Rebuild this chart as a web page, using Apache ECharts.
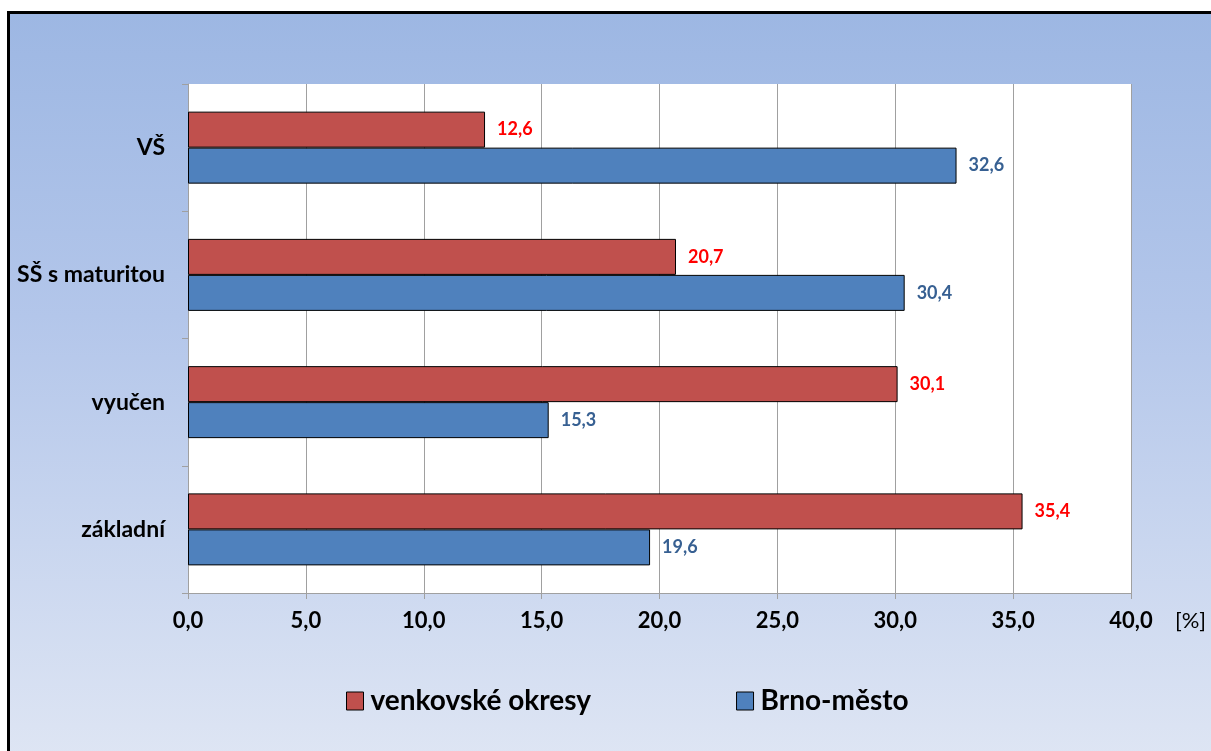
<!DOCTYPE html>
<html>
<head>
<meta charset="utf-8">
<script src="https://cdn.jsdelivr.net/npm/echarts@6/dist/echarts.min.js"></script>
<style>
  html, body { margin: 0; padding: 0; background: #ffffff; }
  #frame {
    position: absolute; left: 7px; top: 11px; width: 1220px; height: 760px;
    border: 3px solid #000000; box-sizing: border-box;
    background: linear-gradient(to bottom, #9db7e3 0%, #b3c6ea 40%, #dfe6f4 100%);
  }
  #chart { position: absolute; left: 0; top: 0; width: 1211px; height: 751px; }
</style>
</head>
<body>
<div id="frame"></div>
<div id="chart"></div>
<script>
// Education level categories, top to bottom
const categories = ['VŠ', 'SŠ s maturitou', 'vyučen', 'základní'];
// Share of population [%]
const venkovske = [12.6, 20.7, 30.1, 35.4];
const brno = [32.6, 30.4, 15.3, 19.6];
const seriesNames = ['venkovské okresy', 'Brno-město'];

const fontFamily = 'Lato, "Open Sans", sans-serif';
const fmt = v => v.toFixed(1).replace('.', ',');

const chart = echarts.init(document.getElementById('chart'), null, { renderer: 'canvas' });
chart.setOption({
  backgroundColor: 'transparent',
  animation: false,
  textStyle: { fontFamily: fontFamily },
  grid: { left: 188, top: 84, right: 80, bottom: 158, backgroundColor: '#ffffff', show: true, borderWidth: 0 },
  legend: {
    data: seriesNames,
    icon: 'rect',
    left: 341, top: 682,
    itemWidth: 17, itemHeight: 18, itemGap: 145,
    textStyle: { fontFamily: fontFamily, fontWeight: 'bold', fontSize: 28, color: '#000000', padding: [0, 0, 0, 2] },
    itemStyle: { borderColor: '#000000', borderWidth: 1 }
  },
  xAxis: {
    type: 'value', min: 0, max: 40, interval: 5,
    name: '[%]', nameLocation: 'end', nameGap: 44,
    nameTextStyle: { fontFamily: fontFamily, fontSize: 22, color: '#000000', verticalAlign: 'top', padding: [17, 0, 0, 0] },
    axisLine: { show: true, lineStyle: { color: '#a0a0a0', width: 1 } },
    axisTick: { show: true, length: 6, lineStyle: { color: '#a0a0a0' } },
    axisLabel: { formatter: v => fmt(v), fontFamily: fontFamily, fontWeight: 'bold', fontSize: 22, color: '#000000', margin: 17 },
    splitLine: { show: true, lineStyle: { color: '#a0a0a0', width: 1 } }
  },
  yAxis: {
    type: 'category', data: categories, inverse: true,
    axisLine: { show: true, lineStyle: { color: '#a0a0a0', width: 1 } },
    axisTick: { show: true, length: 6, lineStyle: { color: '#a0a0a0' } },
    axisLabel: { fontFamily: fontFamily, fontWeight: 'bold', fontSize: 23, color: '#000000', margin: 23 }
  },
  series: [
    {
      name: seriesNames[0], type: 'bar', data: venkovske,
      barWidth: 36, barGap: '0%',
      itemStyle: { color: '#c0504d', borderColor: '#000000', borderWidth: 1 },
      label: { show: true, position: 'right', distance: 12, formatter: p => fmt(p.value),
               fontFamily: fontFamily, fontWeight: 'bold', fontSize: 18, color: '#ff0000' }
    },
    {
      name: seriesNames[1], type: 'bar', data: brno,
      barWidth: 36, barGap: '0%',
      itemStyle: { color: '#4f81bd', borderColor: '#000000', borderWidth: 1 },
      label: { show: true, position: 'right', distance: 12, formatter: p => fmt(p.value),
               fontFamily: fontFamily, fontWeight: 'bold', fontSize: 18, color: '#376092' }
    }
  ]
});
</script>
</body>
</html>
